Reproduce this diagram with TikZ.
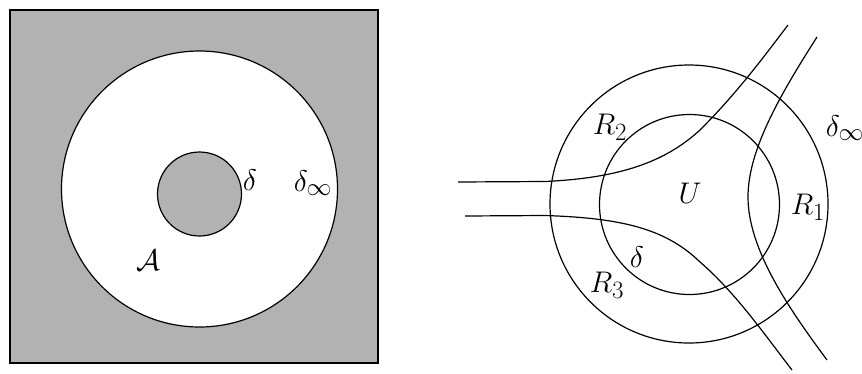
\documentclass[tikz,border=0pt]{standalone}
\newcommand\lbtxt[1]{\scalebox{1.2}{$#1$}}
\begin{document}
\begin{tikzpicture}[x=1pt,y=-1pt,
  lbl/.style={inner sep=0pt,font=\Huge},
  ln/.style={line width=1.2pt},
  gfill/.style={fill=fillgray}]
\definecolor{fillgray}{RGB}{178,178,178}
\useasboundingbox (0,0) rectangle (862,373);
% left figure
\draw[gfill,ln] (10,10) rectangle (378,363);
\draw[ln,fill=white] (199.5,189) circle[radius=138];
\draw[ln,gfill] (199.5,194) circle[radius=42];
\node[lbl] (d1) at (250,180) {\lbtxt{\delta}};
\node[lbl] (dinf1) at (313,183) {\lbtxt{\delta_\infty}};
\node[lbl] (A) at (148,260) {\lbtxt{\mathcal{A}}};
% right figure
\draw[ln] (689,204) circle[radius=139];
\draw[ln] (689.5,204.5) circle[radius=90];
\draw[ln] (458,182) -- (545,181.5) .. controls (620,178) and (665,162) .. (700,130)
  .. controls (735,95) and (760,62) .. (788,25);
\draw[ln] (465,216) -- (545,215.5) .. controls (620,218) and (665,228) .. (700,262)
  .. controls (735,292) and (765,335) .. (792,370);
\draw[ln] (817,37) .. controls (780,95) and (748,150) .. (748,197)
  .. controls (748,250) and (790,310) .. (827,360);
\node[lbl] (R2) at (610,127) {\lbtxt{R_2}};
\node[lbl] (U) at (690,193) {\lbtxt{U}};
\node[lbl] (R1) at (808,207) {\lbtxt{R_1}};
\node[lbl] (R3) at (607,285) {\lbtxt{R_3}};
\node[lbl] (d2) at (637,257) {\lbtxt{\delta}};
\node[lbl] (dinf2) at (845,128) {\lbtxt{\delta_\infty}};
\end{tikzpicture}
\end{document}
